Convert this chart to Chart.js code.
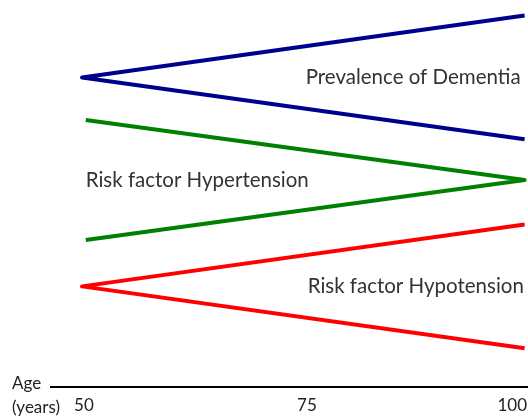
<!DOCTYPE html>
<html>
<head>
<meta charset="utf-8">
<script src="https://cdn.jsdelivr.net/npm/chart.js@4.4.1/dist/chart.umd.min.js"></script>
<style>
  html, body { margin: 0; padding: 0; background: #fff; }
  #wrap { width: 528px; height: 416px; }
</style>
</head>
<body>
<div id="wrap"><canvas id="chart"></canvas></div>
<script>
// ---- data (age in years, level in arbitrary units 0-10) ----
const dementiaAges = [99.4, 49.78, 99.4];
const dementiaLevels = [9.6, 8.0, 6.4];
const hyperAges = [50.2, 99.4, 50.2];
const hyperLevels = [6.9, 5.35, 3.8];
const hypoAges = [99.4, 49.78, 99.4];
const hypoLevels = [4.2, 2.6, 1.0];
const tickValues = [50, 75, 100];
const tickLabels = ['50', '75', '100'];
const seriesNames = ['Prevalence of Dementia', 'Risk factor Hypertension', 'Risk factor Hypotension'];

function toPoints(xs, ys) {
  return xs.map((x, i) => ({ x: x, y: ys[i] }));
}

const FONT = 'Lato, "Open Sans", sans-serif';

// draws the age axis, its labels and the series captions
const decorations = {
  id: 'decorations',
  afterDraw(chart) {
    const ctx = chart.ctx;
    const xs = chart.scales.x;
    const ys = chart.scales.y;
    const axisY = ys.getPixelForValue(0);
    ctx.save();

    // axis line
    ctx.strokeStyle = '#000';
    ctx.lineWidth = 2;
    ctx.beginPath();
    ctx.moveTo(xs.left, axisY);
    ctx.lineTo(chart.width, axisY);
    ctx.stroke();

    // tick labels
    ctx.fillStyle = '#222';
    ctx.font = '17px ' + FONT;
    ctx.textBaseline = 'middle';
    tickValues.forEach((v, i) => {
      const px = xs.getPixelForValue(v);
      const w = ctx.measureText(tickLabels[i]).width;
      ctx.textAlign = (px + w / 2 > chart.width - 2) ? 'right' : 'center';
      ctx.fillText(tickLabels[i], ctx.textAlign === 'right' ? chart.width - 1 : px, axisY + 19);
    });

    // axis title
    ctx.textAlign = 'left';
    ctx.fillText('Age', 12, axisY - 3);
    ctx.fillText('(years)', 12, axisY + 21);

    // series captions
    ctx.fillStyle = '#333';
    ctx.font = '20.5px ' + FONT;
    ctx.textAlign = 'center';
    ctx.fillText(seriesNames[0], xs.getPixelForValue(86.9), ys.getPixelForValue(8.0));
    ctx.fillText(seriesNames[1], xs.getPixelForValue(62.7), ys.getPixelForValue(5.35));
    ctx.fillText(seriesNames[2], xs.getPixelForValue(87.2), ys.getPixelForValue(2.6));
    ctx.restore();
  }
};

new Chart(document.getElementById('chart'), {
  type: 'scatter',
  data: {
    datasets: [
      { label: seriesNames[0], data: toPoints(dementiaAges, dementiaLevels), borderColor: '#00008f' },
      { label: seriesNames[1], data: toPoints(hyperAges, hyperLevels), borderColor: '#008000' },
      { label: seriesNames[2], data: toPoints(hypoAges, hypoLevels), borderColor: '#ff0000' }
    ]
  },
  options: {
    responsive: true,
    maintainAspectRatio: false,
    animation: false,
    layout: { padding: { left: 50, right: 0, top: 0, bottom: 29 } },
    elements: {
      line: { borderWidth: 4, tension: 0, borderJoinStyle: 'round', borderCapStyle: 'butt', fill: false },
      point: { radius: 0, hoverRadius: 0 }
    },
    datasets: { scatter: { showLine: true, clip: false } },
    plugins: { legend: { display: false }, tooltip: { enabled: false } },
    scales: {
      x: { type: 'linear', display: false, min: 46.19, max: 99.78 },
      y: { type: 'linear', display: false, min: 0, max: 10 }
    }
  },
  plugins: [decorations]
});
</script>
</body>
</html>
